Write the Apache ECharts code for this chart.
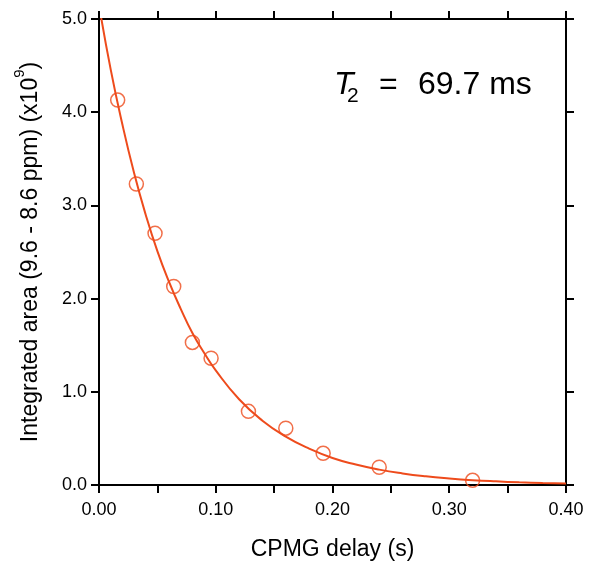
<!DOCTYPE html>
<html lang="en">
<head>
    <meta charset="UTF-8">
    <title>CPMG T2 decay</title>
    <script src="https://cdn.jsdelivr.net/npm/echarts@6/dist/echarts.min.js"></script>
    <style>
        html, body { margin: 0; padding: 0; background: #fff; }
    </style>
</head>
<body>
<div id="main" style="width: 592px;height:566px;"></div>
<script type="text/javascript">
    // measured points: CPMG delay (s) and integrated area (x10^9)
    var delays = [0.016, 0.032, 0.048, 0.064, 0.080, 0.096, 0.128, 0.160, 0.192, 0.240, 0.320];
    var areas = [4.13, 3.23, 2.70, 2.13, 1.53, 1.36, 0.79, 0.61, 0.34, 0.19, 0.05];

    // fitted curve
    var fitX = [0, 0.01, 0.02, 0.03, 0.04, 0.05, 0.06, 0.07, 0.08, 0.09, 0.10,
        0.12, 0.14, 0.16, 0.18, 0.20, 0.22, 0.24, 0.26, 0.28, 0.30, 0.32, 0.34, 0.36, 0.38, 0.40];
    var fitY = [5.15, 4.46, 3.87, 3.35, 2.90, 2.51, 2.18, 1.89, 1.63, 1.42, 1.23,
        0.92, 0.69, 0.52, 0.39, 0.29, 0.22, 0.165, 0.124, 0.093, 0.070, 0.052, 0.039, 0.029, 0.022, 0.017];

    var red = '#ee4b1c';
    var font = 'Liberation Sans, Arial, sans-serif';

    var myChart = echarts.init(document.getElementById('main'));

    var pts = delays.map(function (d, i) { return [d, areas[i]]; });
    var fit = fitX.map(function (d, i) { return [d, fitY[i]]; });

    var axisLine = {show: true, onZero: false, lineStyle: {color: '#000', width: 2}};
    var axisTick = {show: true, inside: false, length: 8, lineStyle: {color: '#000', width: 2}};

    // T2 annotation pieces (text only, placed by hand)
    function txt(s, x, y, size, italic) {
        return {
            type: 'text', x: x, y: y, z: 10,
            style: {
                text: s, fontFamily: font, fontSize: size, fill: '#000',
                fontStyle: italic ? 'italic' : 'normal',
                align: 'left', verticalAlign: 'middle'
            }
        };
    }

    var option = {
        animation: false,
        backgroundColor: '#fff',
        grid: {left: 99, right: 26, top: 19, bottom: 81, containLabel: false},
        xAxis: [{
            type: 'value', position: 'bottom',
            min: 0, max: 0.4, interval: 0.05,
            name: 'CPMG delay (s)', nameLocation: 'middle', nameGap: 53,
            nameTextStyle: {fontFamily: font, fontSize: 23, color: '#000'},
            axisLine: axisLine, axisTick: axisTick, splitLine: {show: false},
            axisLabel: {
                margin: 16, fontFamily: font, fontSize: 18, color: '#000',
                formatter: function (v) {
                    var k = Math.round(v * 20);
                    return k % 2 === 0 ? v.toFixed(2) : '';
                }
            }
        }, {
            type: 'value', position: 'top',
            min: 0, max: 0.4, interval: 0.05,
            axisLine: axisLine, axisTick: axisTick, splitLine: {show: false},
            axisLabel: {show: false}
        }],
        yAxis: [{
            type: 'value', position: 'left',
            min: 0, max: 5, interval: 1,
            name: '{a|Integrated area (9.6 - 8.6 ppm) (x10}{s|9}{a|)}',
            nameLocation: 'middle', nameGap: 57,
            nameTextStyle: {
                fontFamily: font, color: '#000',
                rich: {
                    a: {fontFamily: font, fontSize: 23, color: '#000', lineHeight: 30, verticalAlign: 'bottom'},
                    s: {fontFamily: font, fontSize: 15, color: '#000', lineHeight: 30, verticalAlign: 'top'}
                }
            },
            axisLine: axisLine, axisTick: axisTick, splitLine: {show: false},
            axisLabel: {
                margin: 12, fontFamily: font, fontSize: 18, color: '#000',
                formatter: function (v) { return v.toFixed(1); }
            }
        }, {
            type: 'value', position: 'right',
            min: 0, max: 5, interval: 1,
            axisLine: axisLine, axisTick: axisTick, splitLine: {show: false},
            axisLabel: {show: false}
        }],
        graphic: [
            txt('T', 334, 85, 32, true),
            txt('2', 347, 96, 21, false),
            txt('=', 379, 85, 32, false),
            txt('69.7 ms', 418, 85, 32, false)
        ],
        series: [{
            type: 'line', data: fit, xAxisIndex: 0, yAxisIndex: 0,
            smooth: true, showSymbol: false, clip: true,
            lineStyle: {color: red, width: 2}, z: 2
        }, {
            type: 'scatter', data: pts, xAxisIndex: 0, yAxisIndex: 0,
            symbol: 'circle', symbolSize: 14,
            itemStyle: {color: 'rgba(255,255,255,0)', borderColor: red, borderWidth: 1.5}, z: 3
        }]
    };
    myChart.setOption(option);
</script>
</body>
</html>
